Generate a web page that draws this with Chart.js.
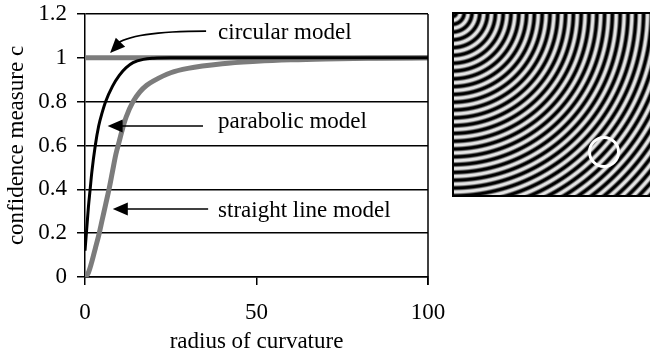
<!DOCTYPE html>
<html>
<head>
<meta charset="utf-8">
<script src="https://cdn.jsdelivr.net/npm/chart.js@4"></script>
<style>
    html, body { margin: 0; padding: 0; background: #fff; }
    #wrap { width: 650px; height: 358px; position: relative; }
</style>
</head>
<body>
<div id="wrap"><canvas id="chart"></canvas></div>
<script>
// values
const circularR = [0, 100];
const circularC = [1, 1];

const parabolicR = [0, 0.5, 1, 1.5, 2, 3, 4, 5, 6, 8, 10, 12, 14, 17, 20, 25, 100];
const parabolicC = [0.12, 0.22, 0.32, 0.40, 0.48, 0.60, 0.69, 0.75, 0.80, 0.87, 0.92, 0.955, 0.978, 0.993, 0.998, 1, 1];

const straightR = [0, 1, 2, 3, 4, 5, 6, 7, 8, 9, 10, 11, 12, 14, 16, 18, 20, 25, 30, 40, 50, 60, 70, 85, 100];
const straightC = [0, 0.02, 0.07, 0.13, 0.19, 0.26, 0.33, 0.40, 0.48, 0.56, 0.62, 0.68, 0.73, 0.80, 0.845, 0.875, 0.895, 0.932, 0.952, 0.973, 0.984, 0.991, 0.995, 0.998, 1];

const seriesNames = ['circular model', 'straight line model', 'parabolic model'];

const FONT = "'Liberation Serif', 'Times New Roman', serif";
const FONT_SIZE = 23;

function points(xs, ys) {
    return xs.map((x, i) => ({ x, y: ys[i] }));
}

// callouts, anchored in data units
const callouts = [
    { text: 'circular model', at: [38.8, 1.113], from: [35.3, 1.122], bend: [13.5, 1.122], to: [7.3, 1.022] },
    { text: 'parabolic model', at: [38.8, 0.707], from: [34.4, 0.689], to: [6.6, 0.689] },
    { text: 'straight line model', at: [38.8, 0.301], from: [35.9, 0.310], to: [8.1, 0.310] },
];

function arrowHead(ctx, x, y, angle) {
    const len = 15, half = 6.5;
    ctx.save();
    ctx.translate(x, y);
    ctx.rotate(angle);
    ctx.beginPath();
    ctx.moveTo(0, 0);
    ctx.lineTo(len, -half);
    ctx.lineTo(len, half);
    ctx.closePath();
    ctx.fill();
    ctx.restore();
}

const calloutPlugin = {
    id: 'callouts',
    afterDatasetsDraw(chart) {
        const { ctx, scales: { x, y } } = chart;
        ctx.save();
        ctx.fillStyle = '#000';
        ctx.strokeStyle = '#000';
        ctx.lineWidth = 1.6;
        ctx.font = `${FONT_SIZE}px ${FONT}`;
        ctx.textBaseline = 'middle';
        ctx.textAlign = 'left';
        callouts.forEach((c) => {
            ctx.fillText(c.text, x.getPixelForValue(c.at[0]), y.getPixelForValue(c.at[1]));
            const fx = x.getPixelForValue(c.from[0]), fy = y.getPixelForValue(c.from[1]);
            const tx = x.getPixelForValue(c.to[0]), ty = y.getPixelForValue(c.to[1]);
            ctx.beginPath();
            ctx.moveTo(fx, fy);
            let angle;
            if (c.bend) {
                const bx = x.getPixelForValue(c.bend[0]), by = y.getPixelForValue(c.bend[1]);
                ctx.quadraticCurveTo(bx, by, tx + 5, ty - 8);
                angle = Math.atan2(by - ty, bx - tx);
            } else {
                ctx.lineTo(tx + 10, ty);
                angle = 0;
            }
            ctx.stroke();
            arrowHead(ctx, tx, ty, angle);
        });
        ctx.restore();
    },
    afterDraw(chart) {
        const { ctx, chartArea, scales: { x } } = chart;
        // right frame line
        ctx.save();
        ctx.strokeStyle = '#000';
        ctx.lineWidth = 1.5;
        const rx = x.getPixelForValue(x.max);
        ctx.beginPath();
        ctx.moveTo(rx, chartArea.top);
        ctx.lineTo(rx, chartArea.bottom + 8);
        ctx.stroke();
        ctx.restore();
    },
};

// ring test image on the right
const ringPlugin = {
    id: 'rings',
    afterDraw(chart) {
        const { ctx } = chart;
        const left = 453, top = 13, w = 650 - left, h = 196 - top;
        const period = 7.8;
        const img = ctx.createImageData(w, h);
        for (let j = 0; j < h; j++) {
            for (let i = 0; i < w; i++) {
                const r = Math.hypot(i + 1, j + 1);
                let v = 0.5 + 0.62 * Math.cos(2 * Math.PI * r / period);
                v = Math.max(0, Math.min(1, v));
                const g = Math.round(v * 228);
                const k = (j * w + i) * 4;
                img.data[k] = g;
                img.data[k + 1] = g;
                img.data[k + 2] = g;
                img.data[k + 3] = 255;
            }
        }
        ctx.putImageData(img, left, top);
        ctx.save();
        ctx.strokeStyle = '#000';
        ctx.lineWidth = 2;
        ctx.strokeRect(left, top, w + 4, h);
        ctx.strokeStyle = '#fff';
        ctx.lineWidth = 3;
        ctx.beginPath();
        ctx.arc(604, 152, 14.5, 0, Math.PI * 2);
        ctx.stroke();
        ctx.restore();
    },
};

new Chart(document.getElementById('chart'), {
    type: 'line',
    data: {
        datasets: [
            {
                label: seriesNames[0],
                data: points(circularR, circularC),
                borderColor: '#7c7c7c',
                borderWidth: 5,
                pointRadius: 0,
                order: 3,
            },
            {
                label: seriesNames[1],
                data: points(straightR, straightC),
                borderColor: '#7c7c7c',
                borderWidth: 5,
                pointRadius: 0,
                cubicInterpolationMode: 'monotone',
                order: 2,
            },
            {
                label: seriesNames[2],
                data: points(parabolicR, parabolicC),
                borderColor: '#000',
                borderWidth: 3,
                pointRadius: 0,
                cubicInterpolationMode: 'monotone',
                order: 1,
            },
        ],
    },
    options: {
        responsive: true,
        maintainAspectRatio: false,
        animation: false,
        layout: { padding: { top: 14, right: 222, left: 0, bottom: 0 } },
        plugins: { legend: { display: false }, tooltip: { enabled: false } },
        scales: {
            x: {
                type: 'linear',
                min: 0,
                max: 100,
                afterFit: (s) => { s.height = 81; s.paddingLeft = 0; s.paddingRight = 0; },
                ticks: { stepSize: 50, color: '#000', font: { family: FONT, size: FONT_SIZE }, padding: 14, maxRotation: 0 },
                grid: { drawOnChartArea: false, drawTicks: true, tickLength: 8, color: '#000', lineWidth: 1.5 },
                border: { display: true, color: '#000', width: 1.5 },
                title: { display: true, text: 'radius of curvature', color: '#000', font: { family: FONT, size: FONT_SIZE }, padding: 2 },
            },
            y: {
                min: 0,
                max: 1.2,
                afterFit: (s) => { s.width = 85; s.paddingTop = 0; s.paddingBottom = 0; },
                ticks: {
                    stepSize: 0.2,
                    color: '#000',
                    font: { family: FONT, size: FONT_SIZE },
                    padding: 10,
                    callback: (v) => String(parseFloat(Number(v).toFixed(1))),
                },
                grid: { color: '#000', lineWidth: 1.5, tickLength: 8 },
                border: { display: true, color: '#000', width: 1.5 },
                title: { display: true, text: 'confidence measure c', color: '#000', font: { family: FONT, size: FONT_SIZE }, padding: 3 },
            },
        },
    },
    plugins: [calloutPlugin, ringPlugin],
});
</script>
</body>
</html>
